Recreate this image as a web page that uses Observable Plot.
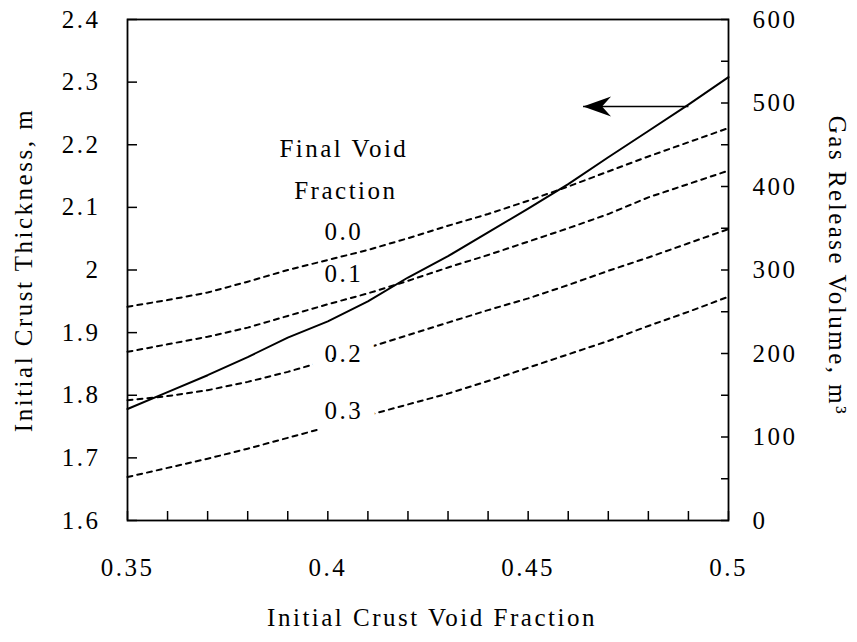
<!DOCTYPE html>
<html>
<head>
<meta charset="utf-8">
<script src="https://cdn.jsdelivr.net/npm/d3@7"></script>
<script src="https://cdn.jsdelivr.net/npm/@observablehq/plot@0.6"></script>
<style>
  html, body { margin: 0; padding: 0; background: #fff; }
</style>
</head>
<body>
<div id="chart"></div>
<script>
// ---- Data ----
const voidFraction = [0.35, 0.36, 0.37, 0.38, 0.39, 0.40, 0.41, 0.42, 0.43, 0.44, 0.45, 0.46, 0.47, 0.48, 0.49, 0.50];
// Initial crust thickness, m (left axis, solid)
const crustThickness = [1.778, 1.805, 1.832, 1.861, 1.892, 1.918, 1.950, 1.988, 2.022, 2.060, 2.098, 2.137, 2.180, 2.222, 2.264, 2.308];
// Gas release volume, m^3 (right axis, dashed) for each final void fraction
const gasFinal00 = [256, 264, 273, 286, 300, 312, 324, 338, 353, 367, 383, 400, 418, 436, 453, 470];
const gasFinal01 = [202, 211, 220, 231, 245, 259, 272, 287, 303, 318, 334, 350, 367, 387, 403, 419];
const gasFinal02 = [144, 149, 156, 166, 178, 192, 207, 222, 237, 252, 266, 282, 299, 315, 332, 349];
const gasFinal03 = [52, 63, 74, 86, 99, 112, 126, 139, 152, 167, 183, 199, 215, 233, 250, 268];
const finalVoidNames = ["0.0", "0.1", "0.2", "0.3"];

// Tick values
const xTickLabels = [0.35, 0.40, 0.45, 0.50];
const xMinorTicks = [0.35, 0.36, 0.37, 0.38, 0.39, 0.40, 0.41, 0.42, 0.43, 0.44, 0.45, 0.46, 0.47, 0.48, 0.49, 0.50];
const leftTickLabels = [1.6, 1.7, 1.8, 1.9, 2, 2.1, 2.2, 2.3, 2.4];
const rightTickLabels = [0, 100, 200, 300, 400, 500, 600];
const rightMinorTicks = [0, 50, 100, 150, 200, 250, 300, 350, 400, 450, 500, 550, 600];

// Annotation texts (positions in data units: x = void fraction, y = left axis)
const annText = ["Final Void", "Fraction", "0.0", "0.1"];
const annX = [0.404, 0.4045, 0.404, 0.404];
const annY = [2.1935, 2.1256, 2.0605, 1.9938];
const gapText = ["0.2", "0.3"];
const gapX = [0.404, 0.404];
const gapY = [1.8655, 1.7744];

// Arrow pointing to the left axis
const arrowFrom = [0.49];
const arrowTo = [0.4637];
const arrowAt = [2.261];

// ---- Scale mapping between right axis (m^3) and left axis (m) ----
const leftDomain = [1.6, 2.4];
const rightDomain = [0, 600];
const toLeft = v => leftDomain[0] + (v - rightDomain[0]) * (leftDomain[1] - leftDomain[0]) / (rightDomain[1] - rightDomain[0]);
const toRight = y => (y - leftDomain[0]) * (rightDomain[1] - rightDomain[0]) / (leftDomain[1] - leftDomain[0]) + rightDomain[0];

const solidRows = voidFraction.map((x, i) => ({x, y: crustThickness[i]}));
const gasSeries = [gasFinal00, gasFinal01, gasFinal02, gasFinal03];
const dashedRows = gasSeries.flatMap((s, k) => voidFraction.map((x, i) => ({x, y: toLeft(s[i]), series: finalVoidNames[k]})));
const annRows = annText.map((t, i) => ({t, x: annX[i], y: annY[i]}));
const gapRows = gapText.map((t, i) => ({t, x: gapX[i], y: gapY[i]}));
const arrowRows = arrowFrom.map((x1, i) => ({x1, x2: arrowTo[i], y: arrowAt[i]}));

const arrowHead = {
  draw(context) {
    context.moveTo(0, 0);
    context.lineTo(28, -10);
    context.lineTo(19, 0);
    context.lineTo(28, 10);
    context.closePath();
  }
};

const fmtNum = d => String(+d.toFixed(2));
const FS = 25;

const chart = Plot.plot({
  width: 857,
  height: 642,
  marginLeft: 127,
  marginRight: 129,
  marginTop: 19,
  marginBottom: 122,
  x: {domain: [0.35, 0.5], label: null},
  y: {domain: leftDomain, label: null},
  style: {
    fontFamily: "'Liberation Serif', 'Times New Roman', serif",
    fontSize: FS + "px",
    letterSpacing: "2.5px",
    color: "black",
    background: "white"
  },
  marks: [
    // tick marks (inward)
    Plot.axisX({ticks: xMinorTicks, tickSize: -9, tickFormat: () => "", label: null, strokeWidth: 1.5}),
    Plot.axisY({anchor: "left", ticks: leftTickLabels, tickSize: -10, tickFormat: () => "", label: null, strokeWidth: 1.5}),
    Plot.axisY({anchor: "right", ticks: rightMinorTicks.map(toLeft), tickSize: -8, tickFormat: () => "", label: null, strokeWidth: 1.5}),
    // tick labels
    Plot.axisX({ticks: xTickLabels, tickSize: 0, tickPadding: 38, tickFormat: fmtNum, label: null, fontSize: FS}),
    Plot.axisY({anchor: "left", ticks: leftTickLabels, tickSize: 0, tickPadding: 27, tickFormat: fmtNum, label: null, fontSize: FS}),
    Plot.axisY({anchor: "right", ticks: rightTickLabels.map(toLeft), tickSize: 0, tickPadding: 24,
      tickFormat: d => String(Math.round(toRight(d))), label: null, fontSize: FS}),
    // data
    Plot.line(dashedRows, {x: "x", y: "y", z: "series", stroke: "black", strokeWidth: 2, strokeDasharray: "5,5"}),
    Plot.line(solidRows, {x: "x", y: "y", stroke: "black", strokeWidth: 2}),
    // annotations
    Plot.text(annRows, {x: "x", y: "y", text: "t", fontSize: FS, fill: "black"}),
    Plot.text(gapRows, {x: "x", y: "y", text: "t", fontSize: FS, fill: "black", stroke: "white", strokeWidth: 30}),
    Plot.link(arrowRows, {x1: "x1", x2: "x2", y1: "y", y2: "y", stroke: "black", strokeWidth: 1.5}),
    Plot.dot(arrowRows, {x: "x2", y: "y", symbol: arrowHead, fill: "black", stroke: null, r: 5}),
    // axis titles
    Plot.text(["Initial Crust Thickness, m"], {text: d => d, frameAnchor: "left", textAnchor: "middle", rotate: -90, dx: -104, fontSize: FS, fill: "black"}),
    Plot.text(["Gas Release Volume, m³"], {text: d => d, frameAnchor: "right", textAnchor: "middle", rotate: 90, dx: 108, dy: -4, fontSize: FS, fill: "black"}),
    Plot.text(["Initial Crust Void Fraction"], {text: d => d, frameAnchor: "bottom", dy: 105, dx: 4, fontSize: FS, fill: "black"}),
    Plot.frame({stroke: "black", strokeWidth: 1.8})
  ]
});
document.getElementById("chart").appendChild(chart);
</script>
</body>
</html>
